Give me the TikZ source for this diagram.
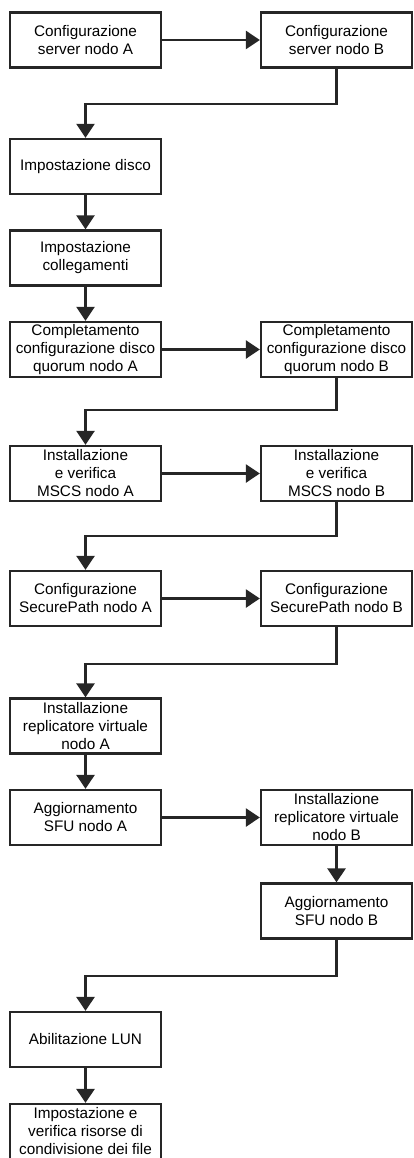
\documentclass[tikz,border=0pt]{standalone}
\usepackage{fontspec}
\setmainfont{Liberation Sans}
\usetikzlibrary{arrows.meta}

\tikzset{
	stepbox/.style={draw=black!85,line width=2.2pt,rectangle,minimum width=151pt,minimum height=55pt,
		inner sep=1pt,align=center,font=\fontsize{15.3}{18}\selectfont},
	flow/.style={draw=black!85,line width=2.4pt,-{Triangle[length=14pt,width=18pt]}}
}

\begin{document}
\begin{tikzpicture}[x=1pt,y=-1pt]

	\useasboundingbox (0,0) rectangle (413,1158);

	% colonna nodo A / nodo B
	\node[stepbox] (a1) at (85.5,40) {Configurazione\\server nodo A};
	\node[stepbox] (b1) at (336.5,40) {Configurazione\\server nodo B};
	\node[stepbox] (a2) at (85.5,166.5) {Impostazione disco};
	\node[stepbox] (a3) at (85.5,258) {Impostazione\\collegamenti};
	\node[stepbox] (a4) at (85.5,349.5) {Completamento\\configurazione disco\\quorum nodo A};
	\node[stepbox] (b4) at (336.5,349.5) {Completamento\\configurazione disco\\quorum nodo B};
	\node[stepbox] (a5) at (85.5,473.5) {Installazione\\e verifica\\MSCS nodo A};
	\node[stepbox] (b5) at (336.5,473.5) {Installazione\\e verifica\\MSCS nodo B};
	\node[stepbox] (a6) at (85.5,598.5) {Configurazione\\SecurePath nodo A};
	\node[stepbox] (b6) at (336.5,598.5) {Configurazione\\SecurePath nodo B};
	\node[stepbox] (a7) at (85.5,726) {Installazione\\replicatore virtuale\\nodo A};
	\node[stepbox] (a8) at (85.5,817.5) {Aggiornamento\\SFU nodo A};
	\node[stepbox] (b8) at (336.5,817.5) {Installazione\\replicatore virtuale\\nodo B};
	\node[stepbox] (b9) at (336.5,911) {Aggiornamento\\SFU nodo B};
	\node[stepbox] (a10) at (85.5,1039.5) {Abilitazione LUN};
	\node[stepbox] (a11) at (85.5,1131.5) {Impostazione e\\verifica risorse di\\condivisione dei file};

	% punti di svolta
	\coordinate (k1) at (85.5,104);
	\coordinate (k4) at (85.5,410);
	\coordinate (k5) at (85.5,536);
	\coordinate (k6) at (85.5,664);
	\coordinate (k9) at (85.5,976);

	\draw[flow] (a1) -- (b1);
	\draw[flow] (b1.south) |- (k1) -- (a2.north);
	\draw[flow] (a2) -- (a3);
	\draw[flow] (a3) -- (a4);
	\draw[flow] (a4) -- (b4);
	\draw[flow] (b4.south) |- (k4) -- (a5.north);
	\draw[flow] (a5) -- (b5);
	\draw[flow] (b5.south) |- (k5) -- (a6.north);
	\draw[flow] (a6) -- (b6);
	\draw[flow] (b6.south) |- (k6) -- (a7.north);
	\draw[flow] (a7) -- (a8);
	\draw[flow] (a8) -- (b8);
	\draw[flow] (b8) -- (b9);
	\draw[flow] (b9.south) |- (k9) -- (a10.north);
	\draw[flow] (a10) -- (a11);

\end{tikzpicture}
\end{document}
